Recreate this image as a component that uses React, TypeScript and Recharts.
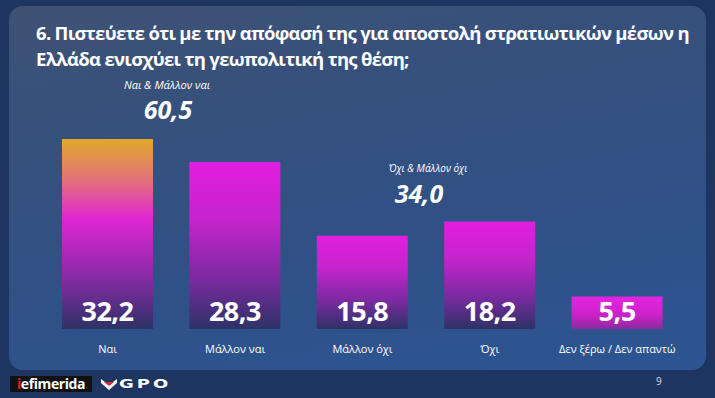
import React from 'react'
import { BarChart, Bar, XAxis, YAxis, Cell, LabelList } from 'recharts'

const categories = ['Ναι', 'Μάλλον ναι', 'Μάλλον όχι', 'Όχι', 'Δεν ξέρω / Δεν απαντώ']
const values = [32.2, 28.3, 15.8, 18.2, 5.5]
const fills = ['url(#gOrange)', 'url(#gMag)', 'url(#gMag)', 'url(#gMag)', 'url(#gSmall)']

const title = '6. Πιστεύετε ότι με την απόφασή της για αποστολή στρατιωτικών μέσων η Ελλάδα ενισχύει τη γεωπολιτική της θέση;'
const groupYes = { label: 'Ναι & Μάλλον ναι', total: '60,5' }
const groupNo = { label: 'Όχι & Μάλλον όχι', total: '34,0' }

const data = categories.map((name, i) => ({ name, value: values[i] }))

const fmt = (v: number) => v.toFixed(1).replace('.', ',')
const FONT = '"Open Sans", "Noto Sans", sans-serif'

function ValueLabel(props: any) {
  const { x, y, width, height, value } = props
  return (
    <text
      x={x + width / 2}
      y={y + height - 8}
      textAnchor="middle"
      fill="#ffffff"
      fontSize={27}
      fontWeight={700}
      fontFamily={FONT}
      letterSpacing={-0.5}
    >
      {fmt(Number(value))}
    </text>
  )
}

function CatTick(props: any) {
  const { x, y, payload } = props
  return (
    <text x={x} y={y + 16} textAnchor="middle" fill="#ffffff" fontSize={11} fontFamily={FONT}>
      {payload.value}
    </text>
  )
}

function Group({ lx, ly, tx, ty, label, total, size }: { lx: number; ly: number; tx: number; ty: number; label: string; total: string; size: number }) {
  const common: React.CSSProperties = {
    position: 'absolute',
    width: 200,
    textAlign: 'center',
    color: '#fff',
    fontFamily: FONT,
    fontStyle: 'italic',
  }
  return (
    <>
      <div style={{ ...common, left: lx - 100, top: ly, fontSize: size, lineHeight: '12px' }}>{label}</div>
      <div style={{ ...common, left: tx - 100, top: ty, fontSize: 25, fontWeight: 700, lineHeight: '24px' }}>{total}</div>
    </>
  )
}

export default function App() {
  return (
    <div
      style={{
        position: 'fixed',
        left: 0,
        top: 0,
        width: 715,
        height: 398,
        background: '#1f3561',
        overflow: 'hidden',
        fontFamily: FONT,
      }}
    >
      <div
        style={{
          position: 'absolute',
          left: 9,
          top: 6,
          width: 697,
          height: 364,
          borderRadius: 14,
          background: 'linear-gradient(170deg, #3f5274 0%, #34507e 35%, #2f5189 70%, #2d5593 100%)',
        }}
      />
      <div
        style={{
          position: 'absolute',
          left: 36,
          top: 20,
          width: 672,
          color: '#fff',
          fontSize: 18.5,
          fontWeight: 700,
          lineHeight: '26px',
          letterSpacing: -0.7,
        }}
      >
        {title}
      </div>

      <div style={{ position: 'absolute', left: 0, top: 0 }}>
        <BarChart
          width={715}
          height={398}
          data={data}
          margin={{ top: 93, right: 34, left: 44, bottom: 39 }}
        >
          <defs>
            <linearGradient id="gOrange" x1="0" y1="0" x2="0" y2="1">
              <stop offset="0%" stopColor="#e3a82c" />
              <stop offset="22%" stopColor="#e2707a" />
              <stop offset="42%" stopColor="#e026d4" />
              <stop offset="72%" stopColor="#8a2aa8" />
              <stop offset="100%" stopColor="#2d3266" />
            </linearGradient>
            <linearGradient id="gMag" x1="0" y1="0" x2="0" y2="1">
              <stop offset="0%" stopColor="#e21ee0" />
              <stop offset="35%" stopColor="#c424cc" />
              <stop offset="70%" stopColor="#7a2aa0" />
              <stop offset="100%" stopColor="#2d3266" />
            </linearGradient>
            <linearGradient id="gSmall" x1="0" y1="0" x2="0" y2="1">
              <stop offset="0%" stopColor="#e424e0" />
              <stop offset="60%" stopColor="#c822c8" />
              <stop offset="100%" stopColor="#8a2a9c" />
            </linearGradient>
          </defs>
          <XAxis
            dataKey="name"
            axisLine={false}
            tickLine={false}
            height={30}
            interval={0}
            tick={<CatTick />}
          />
          <YAxis hide domain={[0, 40]} />
          <Bar dataKey="value" barSize={91} isAnimationActive={false}>
            {data.map((d, i) => (
              <Cell key={d.name} fill={fills[i]} />
            ))}
            <LabelList dataKey="value" content={<ValueLabel />} />
          </Bar>
        </BarChart>
      </div>

      <Group lx={167} ly={79} tx={168} ty={97} label={groupYes.label} total={groupYes.total} size={11} />
      <Group lx={428} ly={162} tx={419} ty={181} label={groupNo.label} total={groupNo.total} size={10} />

      {/* footer logos */}
      <div
        style={{
          position: 'absolute',
          left: 10,
          top: 376,
          width: 82,
          height: 16,
          background: '#111',
        }}
      />
      <div
        style={{
          position: 'absolute',
          left: 10,
          top: 376,
          width: 82,
          color: '#fff',
          fontSize: 14,
          lineHeight: '16px',
          fontWeight: 700,
          letterSpacing: -0.4,
          textAlign: 'center',
        }}
      >
        <span style={{ color: '#e02020' }}>i</span>efimerida
      </div>
      <svg style={{ position: 'absolute', left: 101, top: 379 }} width={16} height={11}>
        <polygon points="0,0 8,6 16,0 16,4 8,11 0,4" fill="#ffffff" />
        <polygon points="3,3 8,7 13,3" fill="#d8283a" />
      </svg>
      <div
        style={{
          position: 'absolute',
          left: 119,
          top: 377,
          color: '#fff',
          fontSize: 12,
          lineHeight: '14px',
          fontWeight: 700,
          letterSpacing: 2,
          transform: 'scaleX(1.5)',
          transformOrigin: 'left center',
          fontFamily: '"DejaVu Sans", sans-serif',
        }}
      >
        GPO
      </div>
      <div
        style={{
          position: 'absolute',
          left: 656,
          top: 374,
          color: '#ddd',
          fontSize: 10,
        }}
      >
        9
      </div>
    </div>
  )
}
